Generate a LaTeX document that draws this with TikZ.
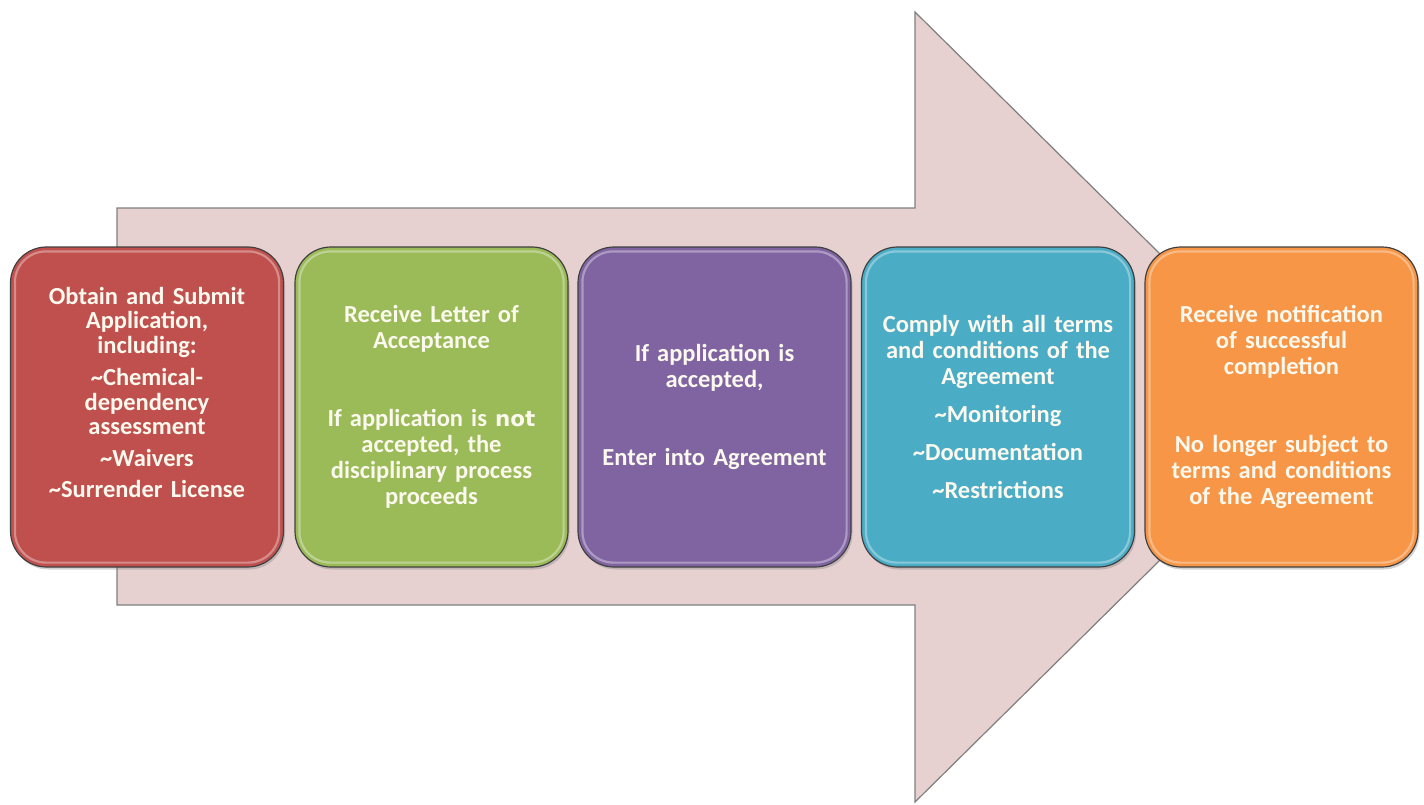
\documentclass[tikz,border=0pt]{standalone}
\usepackage{fontspec}
\setmainfont{Carlito}
\newfontfamily\notfont{DejaVu Sans}
\usetikzlibrary{shadows}
\definecolor{arrowfill}{HTML}{E6D0D0}
\definecolor{arrowline}{HTML}{7F7F7F}
\definecolor{cred}{HTML}{C0504D}
\definecolor{cgreen}{HTML}{9BBB59}
\definecolor{cpurple}{HTML}{8064A2}
\definecolor{cblue}{HTML}{4BACC6}
\definecolor{corange}{HTML}{F79646}
\definecolor{labeltext}{HTML}{FBF8EE}
\tikzset{
  stepbox/.style={draw=black!75, line width=1.2pt, rounded corners=36pt,
    minimum width=273pt, minimum height=320pt, text width=262pt,
    align=center, text=labeltext, inner sep=0pt,
    font=\bfseries\fontsize{24.5}{26}\selectfont,
    drop shadow={shadow xshift=1.5pt, shadow yshift=-2.5pt, opacity=0.35}},
  gloss/.style={draw=white, draw opacity=0.35, line width=2.2pt,
    rounded corners=31pt},
  bigarrow/.style={fill=arrowfill, draw=arrowline, line width=1.2pt}
}
\begin{document}
\begin{tikzpicture}[x=1pt,y=-1pt]
\useasboundingbox (0,0) rectangle (1424,804);
% background arrow
\draw[bigarrow] (117,208) -- (915,208) -- (915,12) -- (1315,407)
  -- (915,802) -- (915,605) -- (117,605) -- cycle;
% the five steps
\node[stepbox, fill=cred] (s1) at (147,407) {\fontsize{24.5}{24.5}\selectfont
  Obtain and Submit\\Application,\\including:\\[8pt]
  \textasciitilde Chemical-\\dependency\\assessment\\[7pt]\textasciitilde Waivers\\[7pt]\textasciitilde Surrender License\\[3pt]\mbox{}};
\node[stepbox, fill=cgreen] (s2) at (431.5,407) {Receive Letter of\\Acceptance\\[52pt]
  If application is {\notfont\fontsize{21.5}{26}\selectfont not}\\accepted, the\\disciplinary process\\proceeds};
\node[stepbox, fill=cpurple] (s3) at (714.5,407) {If application is\\accepted,\\[52pt]Enter into Agreement};
\node[stepbox, fill=cblue] (s4) at (998,407) {Comply with all terms\\and conditions of the\\Agreement\\[12pt]
  \textasciitilde Monitoring\\[12pt]\textasciitilde Documentation\\[12pt]\textasciitilde Restrictions};
\node[stepbox, fill=corange] (s5) at (1281.5,407) {Receive notification\\of successful\\completion\\[52pt]
  No longer subject to\\terms and conditions\\of the Agreement};
% glossy inner rims
\foreach \n in {s1,s2,s3,s4,s5}
  \draw[gloss] ([shift={(5pt,-5pt)}]\n.north west) rectangle ([shift={(-5pt,5pt)}]\n.south east);
\end{tikzpicture}
\end{document}
